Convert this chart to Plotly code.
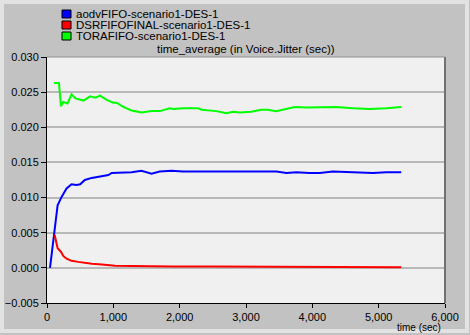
import plotly.graph_objects as go

# ---- data ----
aodv_t = [45, 95, 160, 220, 295, 370, 445, 500, 570, 675, 800, 925, 975, 1125, 1275, 1425,
          1575, 1700, 1875, 2050, 2300, 2605, 2905, 3210, 3460, 3610, 3760, 3960, 4110,
          4310, 4615, 4915, 5115, 5340]
aodv_v = [0.0, 0.0040, 0.0089, 0.0101, 0.0113, 0.0119, 0.0118, 0.0119, 0.0125, 0.0128,
          0.0130, 0.0132, 0.0135, 0.0135, 0.0136, 0.0138, 0.0134, 0.0137, 0.0138, 0.0137,
          0.0137, 0.0138, 0.0137, 0.0137, 0.0137, 0.0135, 0.0136, 0.0135, 0.0135, 0.0137,
          0.0136, 0.0135, 0.0136, 0.0136]

dsr_t = [115, 160, 210, 245, 295, 370, 470, 570, 675, 825, 1025, 1275, 1575, 1900, 2500,
         3000, 3500, 4000, 4500, 5000, 5340]
dsr_v = [0.0047, 0.0028, 0.0023, 0.0017, 0.0013, 0.0010, 0.00085, 0.0007, 0.0006, 0.00047,
         0.0003, 0.00025, 0.0002, 0.0002, 0.00018, 0.00016, 0.00015, 0.00013, 0.00012,
         0.00011, 0.0001]

tora_t = [105, 180, 210, 245, 280, 310, 370, 430, 550, 650, 730, 800, 900, 1000, 1050, 1150,
          1275, 1425, 1575, 1700, 1850, 1900, 2050, 2130, 2280, 2330, 2555, 2705, 2805, 2905,
          3080, 3230, 3330, 3455, 3610, 3735, 3910, 4060, 4360, 4615, 4865, 5115, 5340]
tora_v = [0.0263, 0.0263, 0.0230, 0.0236, 0.0235, 0.0234, 0.0247, 0.0241, 0.0238, 0.0244,
          0.0242, 0.0245, 0.0239, 0.0235, 0.0235, 0.0229, 0.0224, 0.0221, 0.0223, 0.0223,
          0.0227, 0.0226, 0.0227, 0.0227, 0.0227, 0.0225, 0.0223, 0.0220, 0.0222, 0.0221,
          0.0222, 0.0225, 0.0225, 0.0223, 0.0226, 0.0229, 0.0228, 0.0228, 0.0229, 0.0227,
          0.0226, 0.0227, 0.0229]

series_names = ["aodvFIFO-scenario1-DES-1", "DSRFIFOFINAL-scenario1-DES-1",
                "TORAFIFO-scenario1-DES-1"]
series_colors = ["#0000ff", "#ff0000", "#00ff00"]
y_ticks = [-0.005, 0.0, 0.005, 0.010, 0.015, 0.020, 0.025, 0.030]
x_ticks = [0, 1000, 2000, 3000, 4000, 5000, 6000]
chart_title = "time_average (in Voice.Jitter (sec))"
x_title = "time (sec)"

FONT = "Arial, Liberation Sans, sans-serif"

fig = go.Figure()
for t, v, name, col in zip([aodv_t, dsr_t, tora_t], [aodv_v, dsr_v, tora_v],
                           series_names, series_colors):
    fig.add_trace(go.Scatter(x=t, y=v, mode="lines", name=name,
                             line=dict(color=col, width=2), showlegend=False))

W, H = 470, 335
L, R, T, B = 47, 25, 57, 32
pw, ph = W - L - R, H - T - B

def px(x):  # pixel x -> paper
    return (x - L) / pw

def py(y):  # pixel y -> paper
    return 1 - (y - T) / ph

annotations = []
shapes = []
# legend (manual, compact like the original)
for i, (name, col) in enumerate(zip(series_names, series_colors)):
    yc = 14 + i * 11
    shapes.append(dict(type="rect", xref="paper", yref="paper",
                       x0=px(62), x1=px(71), y0=py(yc + 4), y1=py(yc - 4),
                       fillcolor=col, line=dict(color="#000000", width=1)))
    annotations.append(dict(text=name, xref="paper", yref="paper", x=px(74), y=py(yc),
                            xanchor="left", yanchor="middle", showarrow=False,
                            font=dict(family=FONT, size=11.5, color="#000000")))
annotations.append(dict(text=chart_title, xref="paper", yref="paper", x=px(246), y=py(49),
                        xanchor="center", yanchor="middle", showarrow=False,
                        font=dict(family=FONT, size=11.5, color="#000000")))
annotations.append(dict(text=x_title, xref="paper", yref="paper", x=px(443), y=py(327),
                        xanchor="right", yanchor="middle", showarrow=False,
                        font=dict(family=FONT, size=10, color="#000000")))
# light outer frame
shapes.append(dict(type="rect", xref="paper", yref="paper", layer="above",
                   x0=px(2), x1=px(W - 3), y0=py(H - 4), y1=py(2),
                   line=dict(color="#e2e2e2", width=4)))
# right/top plot border
shapes.append(dict(type="line", xref="paper", yref="paper", x0=1, x1=1, y0=0, y1=1,
                   line=dict(color="#707070", width=2)))
shapes.append(dict(type="line", xref="paper", yref="paper", x0=0, x1=1, y0=1, y1=1,
                   line=dict(color="#909090", width=1)))

fig.update_layout(
    width=W, height=H,
    margin=dict(l=L, r=R, t=T, b=B, pad=0, autoexpand=False),
    paper_bgcolor="#c2c2c2",
    plot_bgcolor="#f0f0f0",
    font=dict(family=FONT, size=11, color="#000000"),
    showlegend=False,
    annotations=annotations,
    shapes=shapes,
    xaxis=dict(range=[0, 6000], tickvals=x_ticks, tickformat=",d", showgrid=False,
               automargin=False,
               zeroline=False, showline=True, linecolor="#000000", linewidth=1,
               ticks="outside", ticklen=4, tickcolor="#000000",
               tickfont=dict(family=FONT, size=11, color="#000000")),
    yaxis=dict(range=[-0.005, 0.030], tickvals=y_ticks, tickformat=".3f", showgrid=True,
               automargin=False,
               gridcolor="#b8b8b8", gridwidth=1.5, zeroline=False, showline=True,
               linecolor="#000000", linewidth=1, ticks="outside", ticklen=5,
               tickcolor="#000000",
               tickfont=dict(family=FONT, size=11, color="#000000")),
)

fig.write_html("out.html", config={"displayModeBar": False},
               post_script="document.body.style.margin='0';document.body.style.overflow='hidden';")
